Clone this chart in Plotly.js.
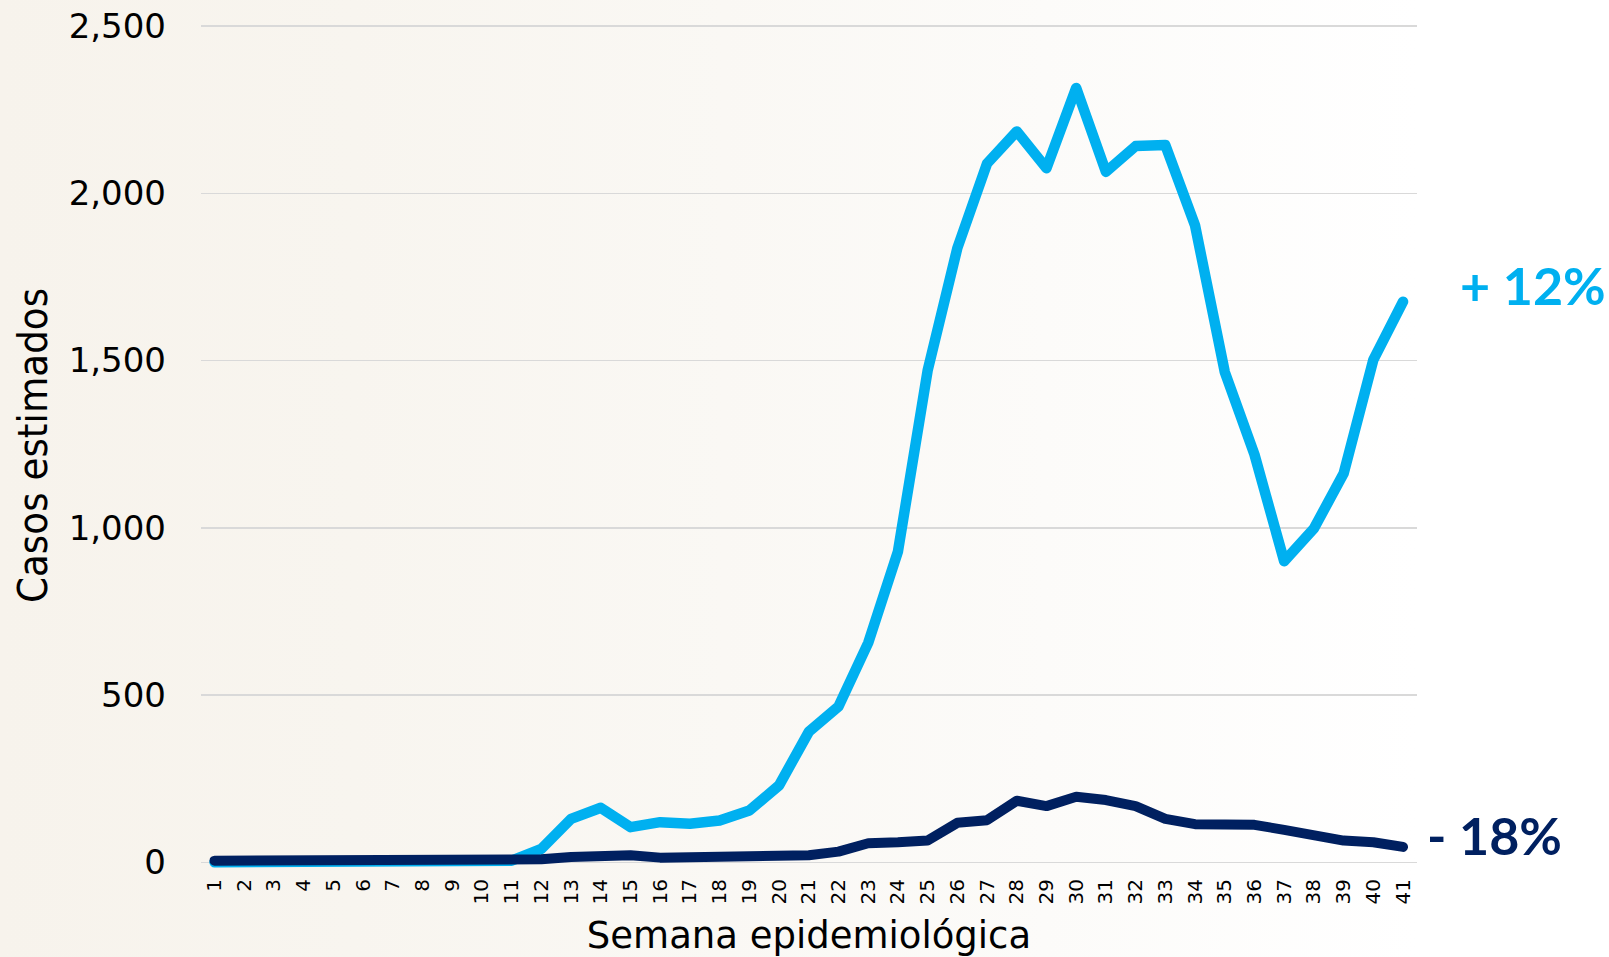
<!DOCTYPE html>
<html>
<head>
<meta charset="utf-8">
<script src="https://cdn.plot.ly/plotly-3.0.1.min.js"></script>
<style>
  html, body { margin: 0; padding: 0; }
  body {
    width: 1609px; height: 957px; overflow: hidden;
    background: linear-gradient(to right, #f7f3ec 0%, #f8f5ef 22%, #faf8f4 45%, #fcfbf9 65%, #ffffff 88%);
  }
  #chart { width: 1609px; height: 957px; }
  .scatterlayer path.js-line { stroke-linecap: round; stroke-linejoin: round; }
</style>
</head>
<body>
<div id="chart"></div>
<script>
// Semana epidemiológica
const semanas = [1,2,3,4,5,6,7,8,9,10,11,12,13,14,15,16,17,18,19,20,21,22,23,24,25,26,27,28,29,30,31,32,33,34,35,36,37,38,39,40,41];

// Serie azul claro (casos estimados)
const serieAzulClaro = [0,0,0,0,0,0,0,0,2,3,5,40,130,163,105,120,115,125,155,230,390,466,656,929,1470,1836,2089,2185,2075,2315,2064,2141,2144,1904,1466,1219,900,998,1162,1502,1676];

// Serie azul oscuro (casos estimados)
const serieAzulOscuro = [5,5,5,5,5,5,5,5,5,6,7,9,16,17,21,14,14,14,14,16,21,32,57,60,65,118,126,184,168,196,186,168,130,114,112,112,97,84,65,60,46];

// Etiquetas de cambio porcentual
const cambios = ['+ 12%', '- 18%'];

// Marcas del eje Y
const yTicks = [0, 500, 1000, 1500, 2000, 2500];
const yTickText = ['0', '500', '1,000', '1,500', '2,000', '2,500'];

const colorClaro = '#00B0F0';
const colorOscuro = '#002060';

const traces = [
  { x: semanas, y: serieAzulClaro, type: 'scatter', mode: 'lines',
    line: { color: colorClaro, width: 10.5 }, hoverinfo: 'skip', showlegend: false },
  { x: semanas, y: serieAzulOscuro, type: 'scatter', mode: 'lines',
    line: { color: colorOscuro, width: 10 }, hoverinfo: 'skip', showlegend: false }
];

const last = semanas.length - 1;

const layout = {
  width: 1609, height: 957,
  paper_bgcolor: 'rgba(0,0,0,0)',
  plot_bgcolor: 'rgba(0,0,0,0)',
  margin: { l: 201, r: 192, t: 22, b: 88 },
  showlegend: false,
  xaxis: {
    type: 'linear',
    range: [0.545, 41.47],
    tickvals: semanas,
    ticktext: semanas.map(String),
    tickangle: -90,
    ticks: '',
    ticklabelstandoff: 5,
    showgrid: false, zeroline: false, showline: false,
    tickfont: { family: 'DejaVu Sans', size: 20, color: '#000' },
    title: { text: 'Semana epidemiológica', standoff: 20,
      font: { family: 'DejaVu Sans', size: 37, color: '#000' } }
  },
  yaxis: {
    range: [-20, 2512],
    tickvals: yTicks,
    ticktext: yTickText,
    ticks: '',
    ticklabelstandoff: 34,
    showgrid: true, gridcolor: '#d9d9d9', gridwidth: 1.5,
    zeroline: false, showline: false,
    tickfont: { family: 'DejaVu Sans', size: 34, color: '#000' },
    title: { text: 'Casos estimados', standoff: 8,
      font: { family: 'DejaVu Sans Condensed, DejaVu Sans', size: 41.5, color: '#000' } }
  },
  annotations: [
    { xref: 'x', yref: 'y', x: semanas[last], y: serieAzulClaro[last],
      text: '<b>' + cambios[0] + '</b>', showarrow: false,
      xanchor: 'left', yanchor: 'middle', xshift: 55, yshift: 17,
      font: { family: 'Lato', size: 52, color: colorClaro, weight: 900 } },
    { xref: 'x', yref: 'y', x: semanas[last], y: serieAzulOscuro[last],
      text: '<b>' + cambios[1] + '</b>', showarrow: false,
      xanchor: 'left', yanchor: 'middle', xshift: 22, yshift: 12,
      font: { family: 'Lato', size: 52, color: colorOscuro, weight: 900 } }
  ]
};

Plotly.newPlot('chart', traces, layout, { displayModeBar: false, staticPlot: true });
</script>
</body>
</html>
